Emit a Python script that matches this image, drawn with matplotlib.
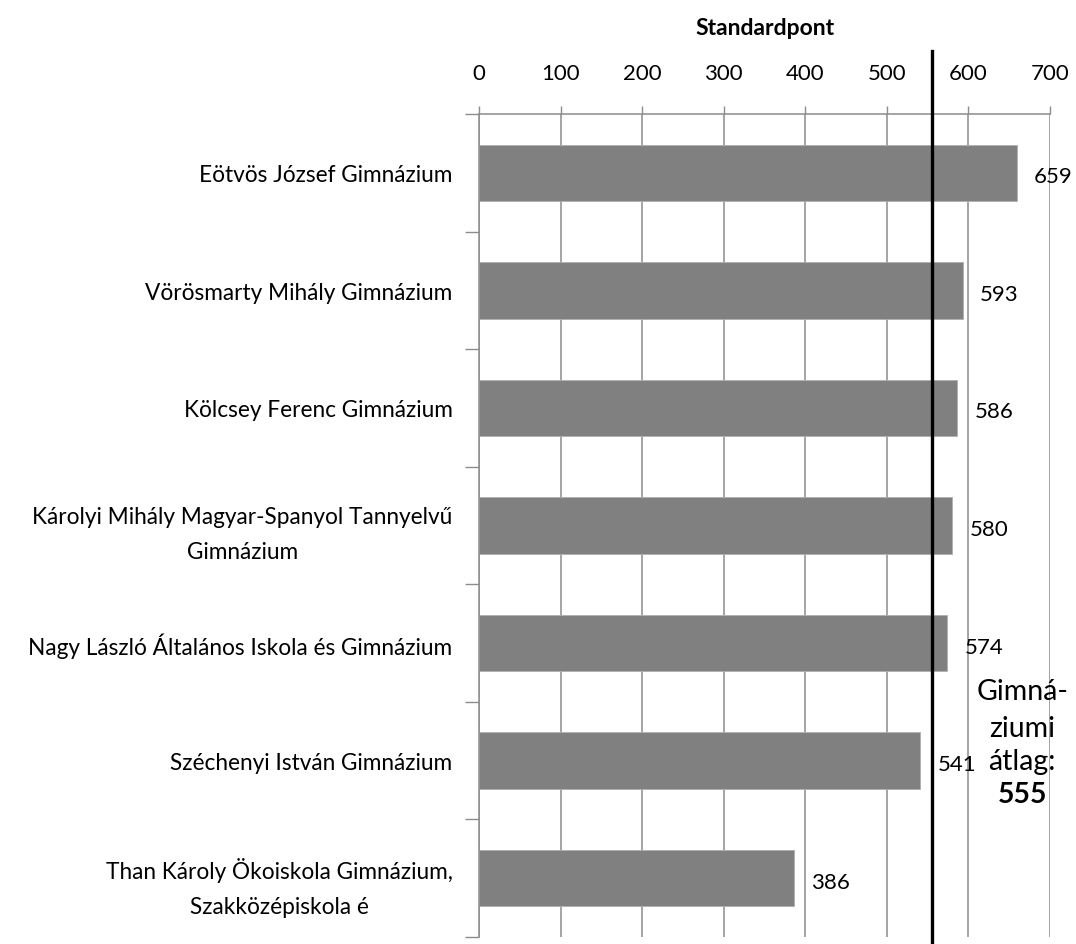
import matplotlib
matplotlib.use("Agg")
import matplotlib.pyplot as plt
import matplotlib.transforms as mtransforms
import numpy as np

plt.rcParams['font.family'] = ['Lato', 'DejaVu Sans']

categories = [
    "Eötvös József Gimnázium",
    "Vörösmarty Mihály Gimnázium",
    "Kölcsey Ferenc Gimnázium",
    "Károlyi Mihály Magyar-Spanyol Tannyelvű\nGimnázium",
    "Nagy László Általános Iskola és Gimnázium",
    "Széchenyi István Gimnázium",
    "Than Károly Ökoiskola Gimnázium,\nSzakközépiskola é",
]
values = [659, 593, 586, 580, 574, 541, 386]
average = 555
x_ticks = [0, 100, 200, 300, 400, 500, 600, 700]
axis_title = "Standardpont"
avg_lines = ["Gimná-", "ziumi", "átlag:"]

W, H = 1076, 945
fig = plt.figure(figsize=(W / 100, H / 100), dpi=100)
ax = fig.add_axes([479 / W, 1 - 938 / H, (1050 - 479) / W, (938 - 115) / H])

y = np.arange(len(categories))
ax.barh(y, values, height=0.48, color='#808080', edgecolor='#b0b0b0', linewidth=0.6, zorder=2)
ax.set_ylim(len(categories) - 0.5, -0.5)
ax.set_xlim(0, 700)

grid_c = '#8c8c8c'
ax.xaxis.tick_top()
ax.xaxis.set_label_position('top')
ax.set_xticks(x_ticks)
ax.set_xticklabels([str(t) for t in x_ticks], fontsize=16)
ax.tick_params(axis='x', which='major', direction='out', length=6, width=1, color=grid_c, pad=16)
ax.grid(axis='x', color=grid_c, linewidth=1.1, zorder=0)
ax.set_axisbelow(True)

ax.set_yticks(y)
ax.set_yticklabels(categories, fontsize=16.3, multialignment='center', linespacing=1.8)
ax.tick_params(axis='y', which='major', length=0, pad=19)
ax.set_yticks(np.arange(len(categories) + 1) - 0.5, minor=True)
ax.tick_params(axis='y', which='minor', direction='out', length=10, width=1, color=grid_c)

for s in ['right', 'bottom']:
    ax.spines[s].set_visible(False)
for s in ['top', 'left']:
    ax.spines[s].set_color(grid_c)
    ax.spines[s].set_linewidth(1.1)

ax.set_xlabel(axis_title, fontsize=16.5, fontweight='bold', labelpad=21)

for yi, v in zip(y, values):
    ax.annotate(str(v), (v, yi), xytext=(12.5, -2.5), textcoords='offset points',
                va='center', ha='left', fontsize=16)

trans = mtransforms.blended_transform_factory(ax.transData, ax.transAxes)
ax.plot([average, average], [-0.01, 1.077], transform=trans, color='black',
        linewidth=2.4, clip_on=False, zorder=4)

line_y = [4.476, 4.79, 5.07]
for ly, txt in zip(line_y, avg_lines):
    ax.text(666, ly, txt, ha='center', va='baseline', fontsize=20.5, zorder=5)
ax.text(666, 5.35, str(average), ha='center', va='baseline', fontsize=20.5,
        fontweight='bold', zorder=5)

fig.savefig('out.png', dpi=100)
